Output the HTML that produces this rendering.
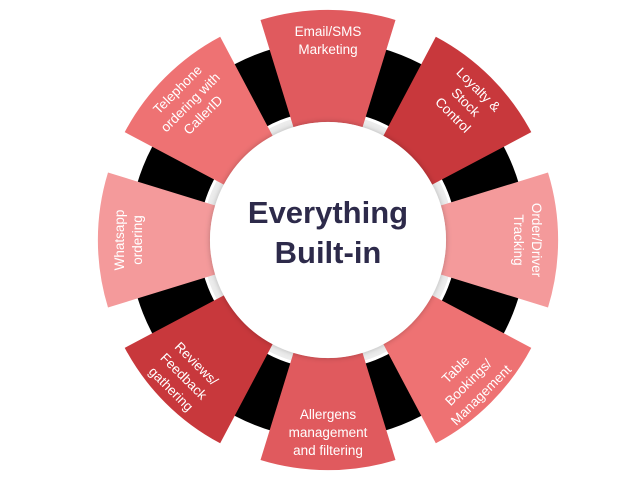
<!DOCTYPE html>
<html><head><style>
html,body{margin:0;padding:0;background:#fff;}
svg{display:block}
text{font-family:"Liberation Sans",sans-serif;}
</style></head><body>
<svg width="640" height="480" viewBox="0 0 640 480">
<defs>
<path id="seg" d="M -67.5 -220 A 230 230 0 0 1 67.5 -220 L 34.5 -112.8 A 118 118 0 0 0 -34.5 -112.8 Z"/>
<filter id="sh" x="-20%" y="-20%" width="140%" height="140%"><feDropShadow dx="0" dy="0" stdDeviation="3" flood-color="#000" flood-opacity="0.25"/></filter>
</defs>
<g transform="translate(328,240)">
<circle r="126" fill="#ececec"/>
<circle r="164" fill="none" stroke="#000" stroke-width="70"/>
<use href="#seg" fill="#e05a5e" transform="rotate(0)"/>
<use href="#seg" fill="#c8383c" transform="rotate(45)"/>
<use href="#seg" fill="#f49a9b" transform="rotate(90)"/>
<use href="#seg" fill="#ee7273" transform="rotate(135)"/>
<use href="#seg" fill="#e05a5e" transform="rotate(180)"/>
<use href="#seg" fill="#c8383c" transform="rotate(225)"/>
<use href="#seg" fill="#f49a9b" transform="rotate(270)"/>
<use href="#seg" fill="#ee7273" transform="rotate(315)"/>
<circle r="118" fill="#fff" filter="url(#sh)"/>
<text x="0" y="-17" text-anchor="middle" font-size="31" font-weight="bold" fill="#2d2a4a">Everything</text>
<text x="0" y="23" text-anchor="middle" font-size="31" font-weight="bold" fill="#2d2a4a">Built-in</text>
<g fill="#fff" font-size="13.5" text-anchor="middle">
<g transform="translate(0,-200)"><text y="-4">Email/SMS</text><text y="14">Marketing</text></g>
<g transform="translate(138,-138) rotate(45)"><text y="-13">Loyalty &amp;</text><text y="5">Stock</text><text y="23">Control</text></g>
<g transform="translate(200,0) rotate(90)"><text y="-4">Order/Driver</text><text y="14">Tracking</text></g>
<g transform="translate(140,142) rotate(-45)"><text y="-13">Table</text><text y="5">Bookings/</text><text y="23">Management</text></g>
<g transform="translate(0,192)"><text y="-13">Allergens</text><text y="5">management</text><text y="23">and filtering</text></g>
<g transform="translate(-144,136) rotate(45)"><text y="-13">Reviews/</text><text y="5">Feedback</text><text y="23">gathering</text></g>
<g transform="translate(-200,0) rotate(-90)"><text y="-4">Whatsapp</text><text y="14">ordering</text></g>
<g transform="translate(-138,-138) rotate(-45)"><text y="-13">Telephone</text><text y="5">ordering with</text><text y="23">CallerID</text></g>
</g>
</g>
</svg>
</body></html>
